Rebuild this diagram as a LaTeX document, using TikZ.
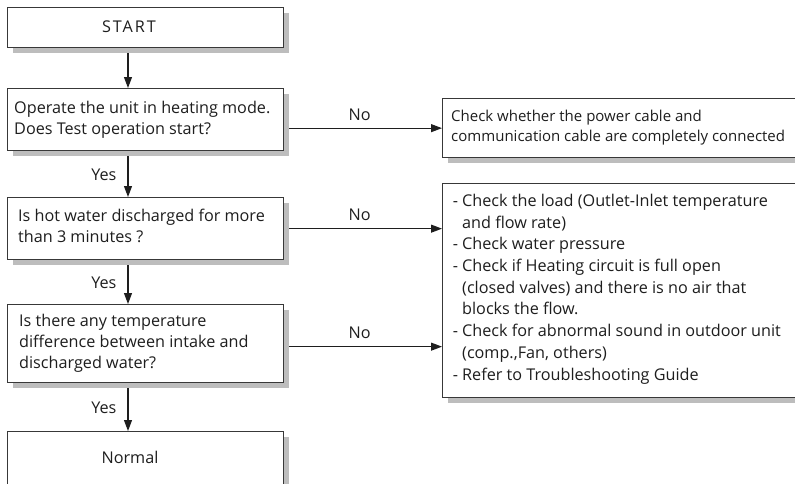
\documentclass[tikz,border=0pt]{standalone}
\usepackage{fontspec}
\setmainfont{Open Sans}
\usetikzlibrary{arrows.meta,shadows,calc}
\definecolor{shad}{HTML}{BDBDBD}
\definecolor{edge}{HTML}{383838}
\definecolor{ink}{HTML}{1E1E1E}
\begin{document}
\begin{tikzpicture}[x=1pt,y=-1pt,
  box/.style={draw=edge, line width=1.3pt, fill=white,
    general shadow={fill=shad, shadow xshift=5pt, shadow yshift=-5pt},
    inner sep=0pt, anchor=north west},
  txt/.style={text=ink, font=\fontsize{16.2}{21}\selectfont, align=left, anchor=west, inner sep=0pt},
  txtA/.style={txt, font=\fontsize{15}{20}\selectfont},
  txtB/.style={txt, font=\fontsize{16.2}{21.7}\selectfont},
  lbl/.style={text=ink, font=\fontsize{16.2}{21}\selectfont, inner sep=0pt},
  arr/.style={draw=ink, line width=1.1pt, -{Triangle[length=11pt,width=8pt]}}]
\useasboundingbox (0,0) rectangle (795,483);
\clip (0,0) rectangle (795,483);
\coordinate (ax) at (128,0);
% left column boxes
\node[box, minimum width=276, minimum height=40] (start) at (7,7) {};
\node[lbl] (startt) at (129,27) {\addfontfeature{LetterSpace=12}START};
\node[box, minimum width=276, minimum height=62] (op) at (7,88) {};
\node[txt] (opt) at (14,120) {Operate the unit in heating mode.\\Does Test operation start?};
\node[box, minimum width=276, minimum height=62] (hw) at (7,197) {};
\node[txt] (hwt) at (18,226) {Is hot water discharged for more\\than 3 minutes ?};
\node[box, minimum width=276, minimum height=78] (td) at (7,304) {};
\node[txt] (tdt) at (19,343) {Is there any temperature\\difference between intake and\\discharged water?};
\node[box, minimum width=276, minimum height=80] (nm) at (7,431) {};
\node[lbl] (nmt) at (130,457) {Normal};
% right column boxes
\node[box, minimum width=370, minimum height=59] (ca) at (442,98) {};
\node[txtA] (cat) at (451,127.5) {Check whether the power cable and\\communication cable are completely connected};
\node[box, minimum width=370, minimum height=214] (cb) at (442,183) {};
\node[txtB] (cbt) at (462,289) {\llap{-\ }Check the load (Outlet-Inlet temperature\\and flow rate)\\\llap{-\ }Check water pressure\\\llap{-\ }Check if Heating circuit is full open\\(closed valves) and there is no air that\\blocks the flow.\\\llap{-\ }Check for abnormal sound in outdoor unit\\(comp.,Fan, others)\\\llap{-\ }Refer to Troubleshooting Guide};
% vertical connectors
\draw[arr] ([yshift=-5pt]start.south -| ax) -- (op.north -| ax);
\draw[arr] ([yshift=-5pt]op.south -| ax) -- node[lbl, pos=0.45, left=11pt] (y1) {Yes} (hw.north -| ax);
\draw[arr] ([yshift=-5pt]hw.south -| ax) -- node[lbl, pos=0.45, left=11pt] (y2) {Yes} (td.north -| ax);
\draw[arr] ([yshift=-5pt]td.south -| ax) -- node[lbl, pos=0.45, left=11pt] (y3) {Yes} (nm.north -| ax);
% horizontal connectors
\coordinate (r1) at ([xshift=5pt]op.east |- ca.west);
\draw[arr] (r1) -- node[lbl, pos=0.46, above=7pt] (n1) {No} (ca.west);
\coordinate (r2) at ([xshift=5pt]hw.east);
\draw[arr] (r2) -- node[lbl, pos=0.46, above=7pt] (n2) {No} (r2 -| cb.west);
\coordinate (r3) at ([xshift=5pt,yshift=-3pt]td.east);
\draw[arr] (r3) -- node[lbl, pos=0.46, above=7pt] (n3) {No} (r3 -| cb.west);
\end{tikzpicture}
\end{document}
